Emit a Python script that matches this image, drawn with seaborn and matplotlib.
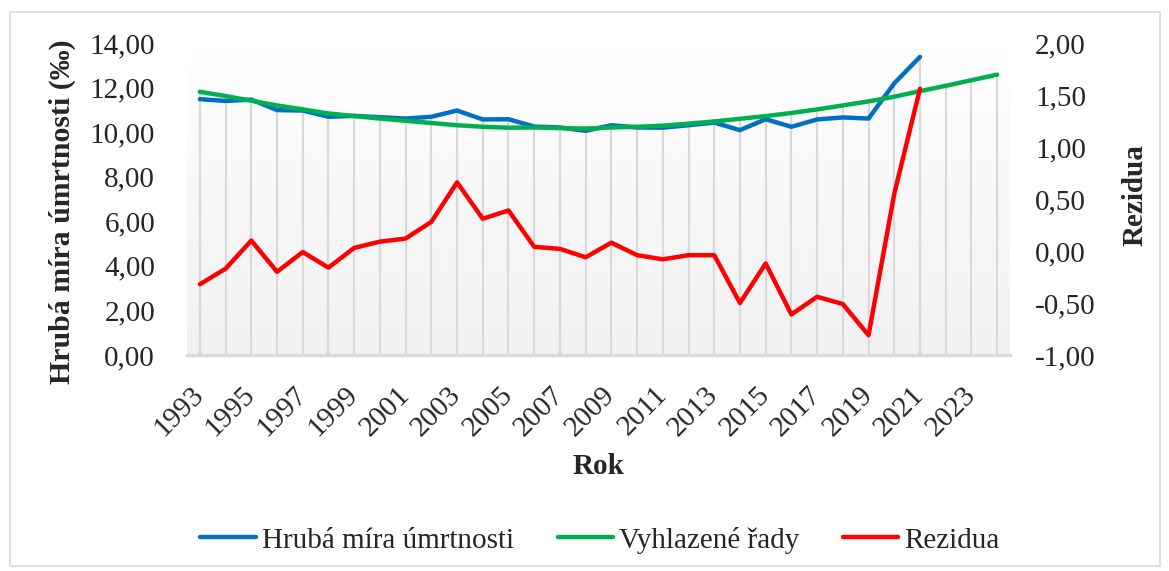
import numpy as np
import pandas as pd
import matplotlib
matplotlib.use("Agg")
import matplotlib.pyplot as plt
import seaborn as sns
from matplotlib.patches import Rectangle
from matplotlib.ticker import FuncFormatter, MultipleLocator

years_obs = list(range(1993, 2022))
years_fit = list(range(1993, 2025))

hruba_mira = [11.48, 11.40, 11.46, 10.99, 10.97, 10.69, 10.73, 10.67, 10.61, 10.69,
              10.97, 10.57, 10.58, 10.25, 10.21, 10.06, 10.31, 10.21, 10.20, 10.31,
              10.43, 10.09, 10.58, 10.24, 10.57, 10.66, 10.61, 12.19, 13.38]

vyhlazene = [11.81, 11.62, 11.41, 11.20, 11.02, 10.84, 10.72, 10.61, 10.51, 10.41,
             10.31, 10.24, 10.20, 10.21, 10.18, 10.16, 10.21, 10.24, 10.29, 10.38,
             10.48, 10.60, 10.72, 10.86, 11.02, 11.20, 11.38, 11.59, 11.84, 12.08,
             12.33, 12.58]

rezidua = [-0.32, -0.17, 0.10, -0.20, -0.01, -0.16, 0.03, 0.09, 0.12, 0.28,
           0.66, 0.31, 0.39, 0.04, 0.02, -0.06, 0.08, -0.04, -0.08, -0.04,
           -0.04, -0.50, -0.12, -0.61, -0.44, -0.51, -0.81, 0.55, 1.56]

lbl_blue = "Hrubá míra úmrtnosti"
lbl_green = "Vyhlazené řady"
lbl_red = "Rezidua"

df_obs = pd.DataFrame({"rok": years_obs, "hruba": hruba_mira, "rez": rezidua})
df_fit = pd.DataFrame({"rok": years_fit, "vyhl": vyhlazene})

sns.set_theme(style="white")
plt.rcParams['font.family'] = ['Liberation Serif', 'DejaVu Serif']

FS = 21
fig = plt.figure(figsize=(11.69, 5.71), dpi=100)
W, H = 1169, 571
ax = fig.add_axes([187 / W, 1 - 355 / H, (1010 - 187) / W, (355 - 43) / H])
ax2 = ax.twinx()

# background gradient
grad = np.linspace(1, 0, 256).reshape(-1, 1)
ax.imshow(grad, extent=[0, 1, 0, 1], transform=ax.transAxes, aspect='auto',
          cmap=matplotlib.colors.LinearSegmentedColormap.from_list(
              "g", ["#f1f1f1", "#ffffff"]), zorder=0)

# drop lines
top = {}
for y, v in zip(years_fit, vyhlazene):
    top[y] = v
for y, v in zip(years_obs, hruba_mira):
    top[y] = max(top[y], v)
ax.vlines(list(top.keys()), 0, list(top.values()), color="#d9d9d9", lw=1.6, zorder=1)

sns.lineplot(data=df_obs, x="rok", y="hruba", ax=ax, color="#0070C0", lw=3.2,
             label=lbl_blue, legend=False, zorder=3)
sns.lineplot(data=df_fit, x="rok", y="vyhl", ax=ax, color="#00B050", lw=3.2,
             label=lbl_green, legend=False, zorder=4)
sns.lineplot(data=df_obs, x="rok", y="rez", ax=ax2, color="#FF0000", lw=3.2,
             label=lbl_red, legend=False, zorder=3)

ax.set_xlim(1992.5, 2024.5)
ax.set_ylim(0, 14)
ax2.set_ylim(-1, 2)
ax.yaxis.set_major_locator(MultipleLocator(2))
ax2.yaxis.set_major_locator(MultipleLocator(0.5))
fmt = FuncFormatter(lambda v, p: f"{v:.2f}".replace(".", ",").replace("-0,00", "0,00"))
ax.yaxis.set_major_formatter(fmt)
ax2.yaxis.set_major_formatter(fmt)

ax.set_xticks(list(range(1993, 2024, 2)))
ax.set_xticklabels([str(y) for y in range(1993, 2024, 2)], rotation=45,
                   ha='right', va='center', rotation_mode='anchor', fontsize=FS)
ax.tick_params(axis='x', length=0, pad=26)
ax.tick_params(axis='y', length=0, labelsize=FS, pad=23)
ax2.tick_params(axis='y', length=0, labelsize=FS, pad=18)

for s in ["top", "left", "right"]:
    ax.spines[s].set_visible(False)
    ax2.spines[s].set_visible(False)
ax.spines["bottom"].set_color("#dadada")
ax.spines["bottom"].set_linewidth(2.5)
ax2.spines["bottom"].set_visible(False)

ax.set_xlabel("")
ax.set_ylabel("")
ax2.set_ylabel("")
fig.text(62 / W, 1 - 212 / H, "Hrubá míra úmrtnosti (‰)", rotation=90, ha='center',
         va='center', fontsize=21.5, fontweight='bold')
fig.text(598 / W, 1 - 466 / H, "Rok", ha='center', va='center', fontsize=FS,
         fontweight='bold')
fig.text(1135 / W, 1 - 195 / H, "Rezidua", rotation=90, ha='center', va='center',
         fontsize=FS, fontweight='bold')

h1, l1 = ax.get_legend_handles_labels()
h2, l2 = ax2.get_legend_handles_labels()
fig.legend(h1 + h2, l1 + l2, loc='center', bbox_to_anchor=(600 / W, 1 - 540 / H),
           ncol=3, frameon=False, fontsize=FS, handlelength=1.9, handletextpad=0.2,
           columnspacing=1.5)

fig.patches.append(Rectangle((10 / W, 1 - 566 / H), 1150 / W, 554 / H, transform=fig.transFigure,
                             fill=False, edgecolor="#d9d9d9", lw=1.2))

fig.savefig("out.png", dpi=100)
